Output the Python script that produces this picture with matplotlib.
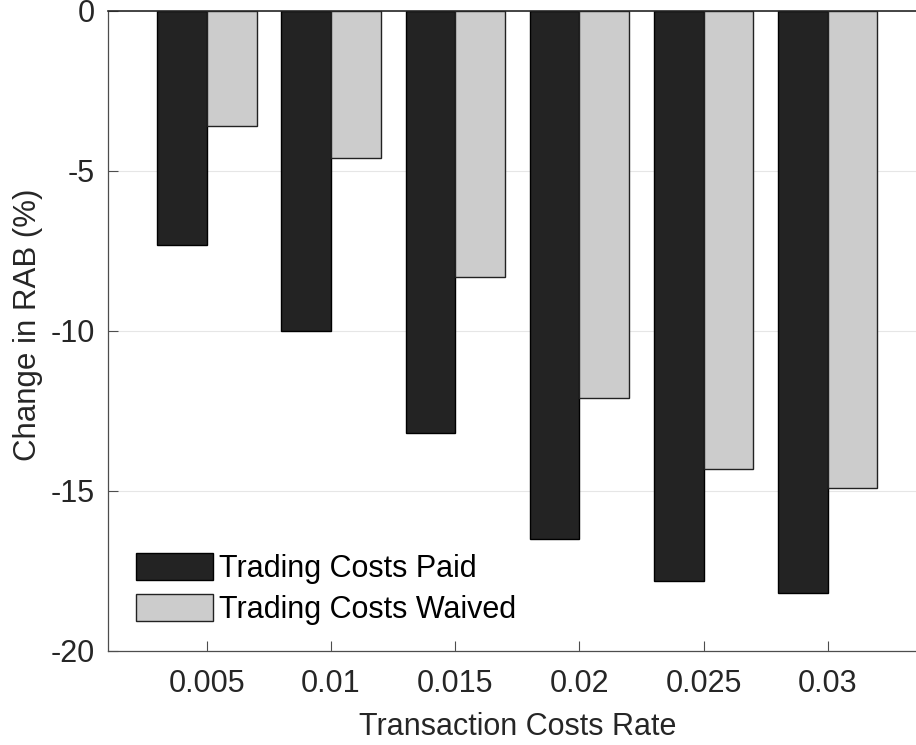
import matplotlib
matplotlib.use('Agg')
import matplotlib.pyplot as plt
import numpy as np

plt.rcParams['font.family'] = ['Liberation Sans', 'DejaVu Sans']

rates = ['0.005', '0.01', '0.015', '0.02', '0.025', '0.03']
costs_paid = [-7.3, -10.0, -13.2, -16.5, -17.8, -18.2]
costs_waived = [-3.6, -4.6, -8.3, -12.1, -14.3, -14.9]

font_size = 22
text_colour = '#262626'
axis_colour = '#4d4d4d'

fig = plt.figure(figsize=(9.16, 7.45), dpi=100)
# axes run a little past the right edge of the figure
ax = fig.add_axes([107.5 / 916, 94 / 745, (927 - 107.5) / 916, 640 / 745])

x = np.arange(1, len(rates) + 1)
width = 0.4
ax.bar(x - width / 2, costs_paid, width, color='#232323', edgecolor='black',
       linewidth=1.0, label='Trading Costs Paid', zorder=3)
ax.bar(x + width / 2, costs_waived, width, color='#cccccc', edgecolor='#222222',
       linewidth=1.0, label='Trading Costs Waived', zorder=3)

ax.set_xlim(0.2, 6.8)
ax.set_ylim(-20, 0)
ax.set_xticks(x)
ax.set_xticklabels(rates)
ax.set_yticks([-20, -15, -10, -5, 0])
ax.set_yticklabels(['-20', '-15', '-10', '-5', '0'])
ax.yaxis.grid(True, color='#e6e6e6', linewidth=0.8, zorder=0)
ax.set_axisbelow(True)

ax.tick_params(axis='both', direction='in', length=7, width=0.8,
               colors=axis_colour, labelcolor=text_colour, labelsize=font_size)
ax.tick_params(axis='x', pad=13)
ax.tick_params(axis='y', pad=9)
for side in ['left', 'bottom']:
  ax.spines[side].set_color(axis_colour)
  ax.spines[side].set_linewidth(0.9)
ax.spines['top'].set_color('#262626')
ax.spines['top'].set_linewidth(1.2)
ax.spines['top'].set_zorder(5)
ax.spines['right'].set_visible(False)

ax.set_xlabel('Transaction Costs Rate', fontsize=font_size, color=text_colour, labelpad=9.5)
ax.set_ylabel('Change in RAB (%)', fontsize=22.5, color=text_colour)
ax.yaxis.set_label_coords(-0.079, 0.51)

ax.legend(loc='lower left', bbox_to_anchor=(0.02, 0.022), frameon=False,
          fontsize=font_size, handlelength=2.5, handleheight=0.98,
          handletextpad=0.2, labelspacing=0.32, borderaxespad=0.0)

fig.savefig('out.png', dpi=100)
